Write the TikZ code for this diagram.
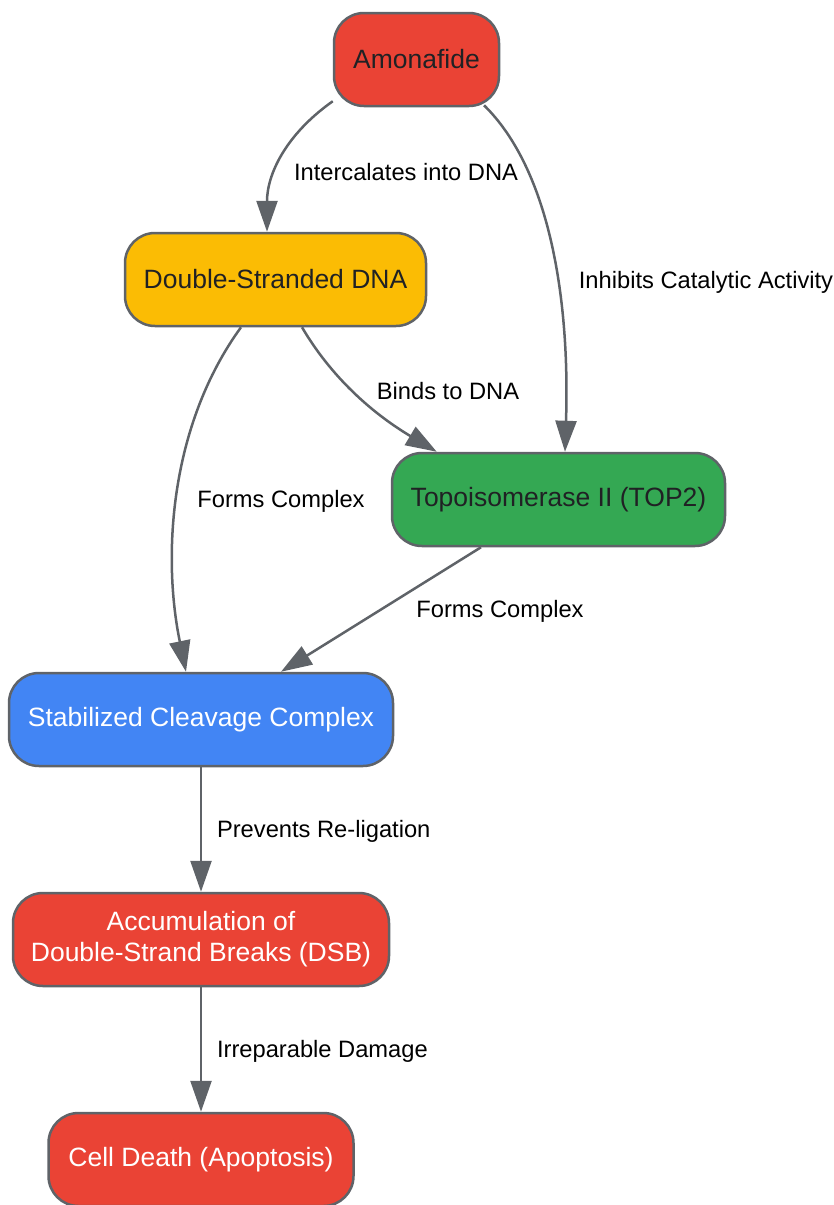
\documentclass[tikz,border=0pt]{standalone}
\usepackage{fontspec}
\setmainfont{Liberation Sans}
\usepackage{tikz}
\usetikzlibrary{arrows.meta}
\definecolor{boxred}{HTML}{EA4335}
\definecolor{boxyellow}{HTML}{FBBC04}
\definecolor{boxgreen}{HTML}{34A853}
\definecolor{boxblue}{HTML}{4285F4}
\definecolor{linegray}{HTML}{5F6368}
\definecolor{darktext}{HTML}{202124}
\tikzset{
  flow box/.style={
    rounded corners=30pt,
    draw=linegray,
    line width=2.5pt,
    minimum width={#1pt},
    minimum height=93pt,
    align=center,
    font=\fontsize{26.5}{31}\selectfont,
  },
  edge label/.style={
    font=\fontsize{23.7}{28}\selectfont,
    text=black,
  },
  flow arrow/.style={
    draw=linegray,
    line width=2.5pt,
    -{Triangle[length=31pt,width=21pt]},
  }
}

\begin{document}
\begin{tikzpicture}[x=1pt,y=-1pt]
    \useasboundingbox (0,0) rectangle (834,1205);

    \node [flow box=165, fill=boxred, text=darktext] (amonafide) at (416.5,59.5) {Amonafide};
    \node [flow box=301, fill=boxyellow, text=darktext] (dna) at (275.5,279.5) {Double-Stranded DNA};
    \node [flow box=333, fill=boxgreen, text=darktext] (top2) at (558.5,499.5) {Topoisomerase II (TOP2)};
    \node [flow box=384, fill=boxblue, text=white] (complex) at (201,719.5) {Stabilized Cleavage Complex};
    \node [flow box=376, fill=boxred, text=white] (dsb) at (201,939.5) {Accumulation of\\Double-Strand Breaks (DSB)};
    \node [flow box=305, fill=boxred, text=white] (death) at (201,1159.5) {Cell Death (Apoptosis)};

    % curved connectors
    \draw [flow arrow] ([yshift=6pt]amonafide.south west) .. controls (285,135) and (267,175) .. ([xshift=-8.5pt]dna.north);
    \draw [flow arrow] ([xshift=67.5pt,yshift=2pt]amonafide.south) .. controls (550,170) and (570,300) .. ([xshift=6.5pt]top2.north);
    \draw [flow arrow] ([xshift=26.5pt]dna.south) .. controls (330,375) and (370,412) .. ([xshift=46pt]top2.north west);
    \draw [flow arrow] ([xshift=-34.5pt]dna.south) .. controls (170,425) and (162,555) .. ([xshift=-15pt]complex.north);

    % straight connectors
    \draw [flow arrow] ([xshift=-77.5pt]top2.south) -- ([xshift=80pt]complex.north);
    \draw [flow arrow] (complex.south) -- (dsb.north);
    \draw [flow arrow] (dsb.south) -- (death.north);

    \node [edge label] (l1) at (406,172) {Intercalates into DNA};
    \node [edge label] (l2) at (706,282) {Inhibits Catalytic Activity};
    \node [edge label] (l3) at (448,391) {Binds to DNA};
    \node [edge label] (l4) at (281,501) {Forms Complex};
    \node [edge label] (l5) at (500,611) {Forms Complex};
    \node [edge label, anchor=west] (l6) at (213.5,831) {Prevents Re-ligation};
    \node [edge label, anchor=west] (l7) at (213.5,1051) {Irreparable Damage};
\end{tikzpicture}
\end{document}
